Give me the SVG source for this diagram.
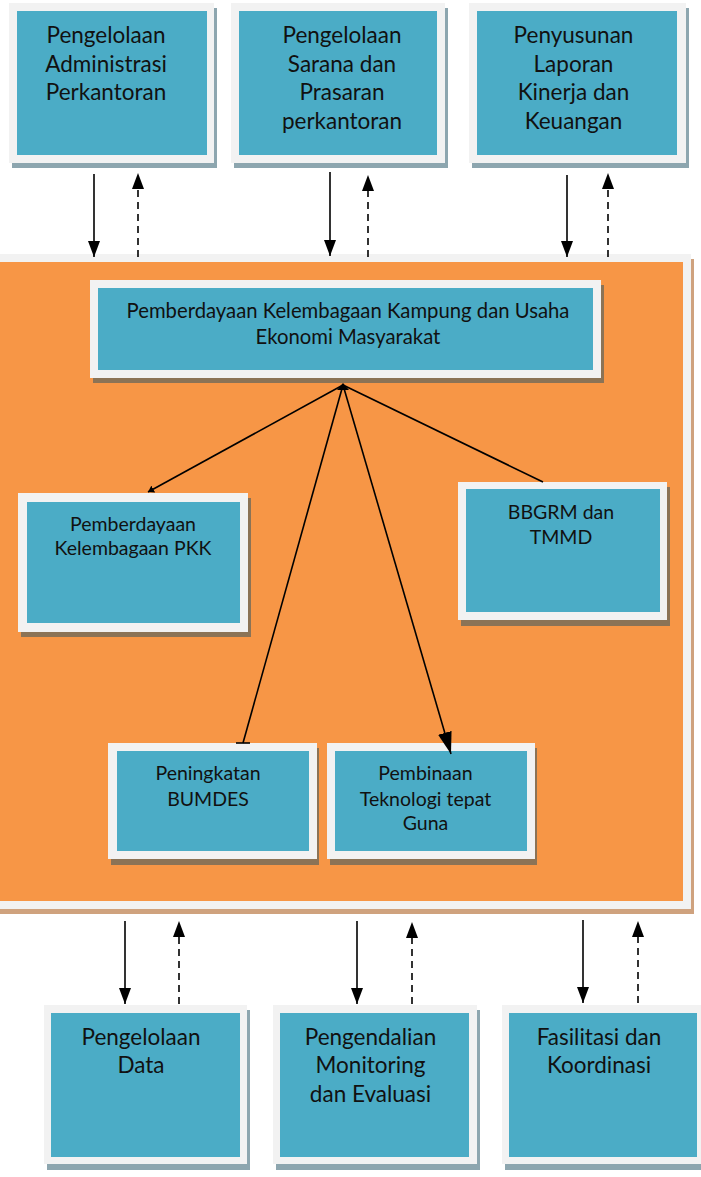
<svg xmlns="http://www.w3.org/2000/svg" width="701" height="1177" viewBox="0 0 701 1177">
<style>
  .frame{fill:#F2F2F2}
  .blue{fill:#4BACC6}
  .shB{fill:#8DA6AF}
  .shO{fill:#8B7356}
  .shP{fill:#CFA27E}
  .t{font-family:Lato,"Liberation Sans",sans-serif;fill:#111;text-anchor:middle}
  .big{font-size:22.5px}
  .mid{font-size:20.3px}
  .sm{font-size:19.5px}
  .ln{stroke:#000;stroke-width:1.6;fill:none}
  .dash{stroke-dasharray:7,5}
</style>
<defs>
  <marker id="ah" viewBox="0 0 16 12" refX="16" refY="6" markerWidth="16" markerHeight="12" markerUnits="userSpaceOnUse" orient="auto">
    <path d="M0,0 L16,6 L0,12 z" fill="#000"/>
  </marker>
  <marker id="ahL" viewBox="0 0 22 14" refX="22" refY="7" markerWidth="22" markerHeight="14" markerUnits="userSpaceOnUse" orient="auto">
    <path d="M0,0 L22,7 L0,14 z" fill="#000"/>
  </marker>
  <marker id="stub" viewBox="0 0 6 8" refX="6" refY="4" markerWidth="6" markerHeight="8" markerUnits="userSpaceOnUse" orient="auto">
    <path d="M0,0 L6,4 L0,8 z" fill="#000"/>
  </marker>
</defs>
<rect width="701" height="1177" fill="#fff"/>

<g id="panel">
  <rect class="shP" x="-7" y="259" width="701" height="655"/>
  <rect class="frame" x="-10" y="254" width="701" height="655"/>
  <rect x="0" y="262" width="683" height="639" fill="#F79646"/>
</g>

<g id="top1">
  <rect class="shB" x="12" y="8" width="205" height="160"/>
  <rect class="frame" x="9" y="3" width="205" height="160"/>
  <rect class="blue" x="17" y="11" width="190" height="144"/>
  <text class="t big"><tspan x="106" y="43">Pengelolaan</tspan><tspan x="106" y="71.5">Administrasi</tspan><tspan x="106" y="100">Perkantoran</tspan></text>
</g>
<g id="top2">
  <rect class="shB" x="234" y="8" width="214" height="160"/>
  <rect class="frame" x="231" y="3" width="214" height="160"/>
  <rect class="blue" x="239" y="11" width="198" height="144"/>
  <text class="t big"><tspan x="342" y="43">Pengelolaan</tspan><tspan x="342" y="71.5">Sarana dan</tspan><tspan x="342" y="100">Prasaran</tspan><tspan x="342" y="128.5">perkantoran</tspan></text>
</g>
<g id="top3">
  <rect class="shB" x="472" y="8" width="217" height="160"/>
  <rect class="frame" x="469" y="3" width="217" height="160"/>
  <rect class="blue" x="477" y="11" width="200" height="144"/>
  <text class="t big"><tspan x="573.5" y="43">Penyusunan</tspan><tspan x="573.5" y="71.5">Laporan</tspan><tspan x="573.5" y="100">Kinerja dan</tspan><tspan x="573.5" y="128.5">Keuangan</tspan></text>
</g>

<g id="header">
  <rect class="shO" x="93" y="285" width="511" height="98"/>
  <rect class="frame" x="90" y="280" width="511" height="98"/>
  <rect class="blue" x="98" y="288" width="495" height="82"/>
  <text class="t mid"><tspan x="348" y="318">Pemberdayaan Kelembagaan Kampung dan Usaha</tspan><tspan x="348" y="344">Ekonomi Masyarakat</tspan></text>
</g>

<g id="pkk">
  <rect class="shO" x="21" y="498" width="230" height="139"/>
  <rect class="frame" x="18" y="493" width="230" height="139"/>
  <rect class="blue" x="27" y="502" width="213" height="121"/>
  <text class="t sm"><tspan x="133" y="531">Pemberdayaan</tspan><tspan x="133" y="555">Kelembagaan PKK</tspan></text>
</g>
<g id="bbgrm">
  <rect class="shO" x="461" y="487" width="209" height="139"/>
  <rect class="frame" x="458" y="482" width="209" height="138"/>
  <rect class="blue" x="466" y="489" width="194" height="123"/>
  <text class="t sm"><tspan x="561" y="519">BBGRM dan</tspan><tspan x="561" y="544">TMMD</tspan></text>
</g>
<g id="bumdes">
  <rect class="shO" x="111" y="748" width="208" height="117"/>
  <rect class="frame" x="108" y="743" width="209" height="116"/>
  <rect class="blue" x="117" y="751" width="192" height="100"/>
  <text class="t sm"><tspan x="208" y="780">Peningkatan</tspan><tspan x="208" y="806">BUMDES</tspan></text>
</g>
<g id="ttg">
  <rect class="shO" x="330" y="748" width="207" height="117"/>
  <rect class="frame" x="327" y="743" width="208" height="116"/>
  <rect class="blue" x="335" y="751" width="192" height="100"/>
  <text class="t sm"><tspan x="425.5" y="780">Pembinaan</tspan><tspan x="425.5" y="806">Teknologi tepat</tspan><tspan x="425.5" y="830">Guna</tspan></text>
</g>

<g id="bot1">
  <rect class="shB" x="47" y="1010" width="203" height="160"/>
  <rect class="frame" x="44" y="1005" width="203" height="159"/>
  <rect class="blue" x="51" y="1013" width="189" height="144"/>
  <text class="t big"><tspan x="141" y="1045">Pengelolaan</tspan><tspan x="141" y="1073">Data</tspan></text>
</g>
<g id="bot2">
  <rect class="shB" x="276" y="1010" width="204" height="160"/>
  <rect class="frame" x="273" y="1005" width="204" height="159"/>
  <rect class="blue" x="280" y="1013" width="189" height="144"/>
  <text class="t big"><tspan x="370.5" y="1045">Pengendalian</tspan><tspan x="370.5" y="1073">Monitoring</tspan><tspan x="370.5" y="1101.5">dan Evaluasi</tspan></text>
</g>
<g id="bot3">
  <rect class="shB" x="505" y="1010" width="204" height="160"/>
  <rect class="frame" x="502" y="1005" width="204" height="159"/>
  <rect class="blue" x="509" y="1013" width="188" height="144"/>
  <text class="t big"><tspan x="599" y="1045">Fasilitasi dan</tspan><tspan x="599" y="1073">Koordinasi</tspan></text>
</g>

<g id="connectors">
  <line class="ln" x1="94" y1="174" x2="94" y2="257" marker-end="url(#ah)"/>
  <line class="ln dash" x1="138" y1="257" x2="138" y2="173" marker-end="url(#ah)"/>
  <line class="ln" x1="330" y1="172" x2="330" y2="256" marker-end="url(#ah)"/>
  <line class="ln dash" x1="368" y1="257" x2="368" y2="175" marker-end="url(#ah)"/>
  <line class="ln" x1="567" y1="175" x2="567" y2="257" marker-end="url(#ah)"/>
  <line class="ln dash" x1="608" y1="257" x2="608" y2="173" marker-end="url(#ah)"/>

  <line class="ln" x1="125" y1="921" x2="125" y2="1004" marker-end="url(#ah)"/>
  <line class="ln dash" x1="179" y1="1004" x2="179" y2="921" marker-end="url(#ah)"/>
  <line class="ln" x1="357" y1="921" x2="357" y2="1004" marker-end="url(#ah)"/>
  <line class="ln dash" x1="412" y1="1004" x2="412" y2="922" marker-end="url(#ah)"/>
  <line class="ln" x1="583" y1="920" x2="583" y2="1003" marker-end="url(#ah)"/>
  <line class="ln dash" x1="638" y1="1003" x2="638" y2="921" marker-end="url(#ah)"/>

  <path d="M337,390 L343,383 L349,390 z" fill="#000"/>
  <line class="ln" x1="343" y1="385" x2="148" y2="492" marker-end="url(#stub)"/>
  <line class="ln" x1="343" y1="385" x2="243" y2="743"/>
  <line class="ln" x1="236" y1="743" x2="250" y2="743"/>
  <line class="ln" x1="343" y1="385" x2="451" y2="754" marker-end="url(#ahL)"/>
  <line class="ln" x1="343" y1="385" x2="543" y2="482"/>
</g>
</svg>
